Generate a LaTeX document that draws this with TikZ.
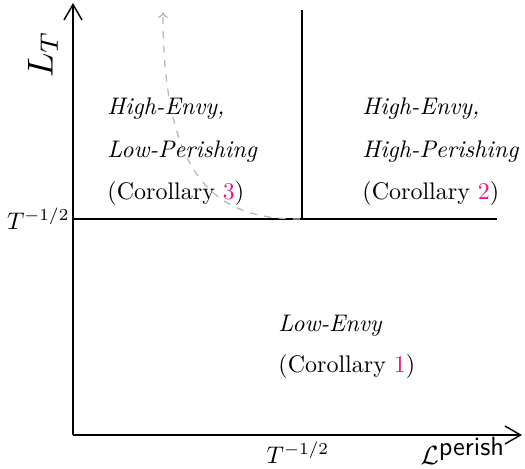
\documentclass[tikz,border=0pt]{standalone}
\usetikzlibrary{arrows.meta}
\definecolor{refpink}{RGB}{230,20,140}
\definecolor{dashgray}{RGB}{180,180,180}
\begin{document}
\begin{tikzpicture}[x=0.4167pt,y=-0.4167pt,
  axis/.style={line width=0.6pt,-{Straight Barb[length=6.5pt,width=7.5pt,line width=0.6pt]}},
  border/.style={line width=0.6pt},
  region/.style={anchor=base west,inner sep=0pt},
  guide/.style={dashgray,dashed,line width=0.5pt,-{To[length=2.5pt,width=4pt]}}]
\useasboundingbox (0,0) rectangle (525,469);
\coordinate (O) at (73,435);
\coordinate (ytop) at (73,3);
\coordinate (xend) at (522,435);
\coordinate (hl) at (73,219);
\coordinate (hr) at (497,219);
\coordinate (vb) at (302,219);
\coordinate (vt) at (302,10);
\coordinate (cs) at (300,219);
\coordinate (ce) at (163,12);
\draw[axis] (O) -- (ytop);
\draw[axis] (O) -- (xend);
\draw[border] (hl) -- (hr);
\draw[border] (vb) -- (vt);
\draw[guide] (cs) .. controls (220,219) and (163,185) .. (ce);
\node[region] (a1) at (107,115) {\textit{High-Envy,}};
\node[region] (a2) at (107,158) {\textit{Low-Perishing}};
\node[region] (a3) at (107,200) {(Corollary \textcolor{refpink}{3})};
\node[region] (b1) at (362,115) {\textit{High-Envy,}};
\node[region] (b2) at (362,158) {\textit{High-Perishing}};
\node[region] (b3) at (362,200) {(Corollary \textcolor{refpink}{2})};
\node[region] (c1) at (278,332) {\textit{Low-Envy}};
\node[region] (c2) at (278,373) {(Corollary \textcolor{refpink}{1})};
\node[anchor=east,inner sep=0pt] (ty) at (70,219) {$T^{-1/2}$};
\node[inner sep=0pt] (tx) at (298,453) {$T^{-1/2}$};
\node[rotate=90,scale=1.5,inner sep=0pt] (lt) at (43,54) {$L_T$};
\node[inner sep=0pt,scale=1.1] (lp) at (463,451) {$\mathcal{L}^{\textsf{perish}}$};
\end{tikzpicture}
\end{document}
